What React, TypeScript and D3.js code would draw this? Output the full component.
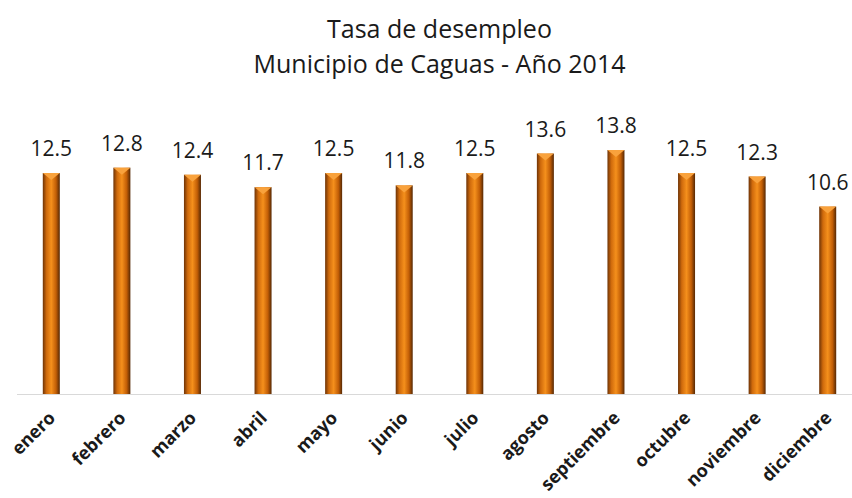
import React, { useEffect, useRef } from "react";
import * as d3 from "d3";

// chart data
const months = ["enero", "febrero", "marzo", "abril", "mayo", "junio", "julio", "agosto", "septiembre", "octubre", "noviembre", "diciembre"];
const rates = [12.5, 12.8, 12.4, 11.7, 12.5, 11.8, 12.5, 13.6, 13.8, 12.5, 12.3, 10.6];
const titleLines = ["Tasa de desempleo", "Municipio de Caguas - Año 2014"];

const W = 852, H = 498;

const drawChart = (node: SVGSVGElement) => {
  const svg = d3.select(node);
  svg.selectAll("*").remove();

  // plot area runs a bit past the right edge, like the original
  const margin = { left: 16, right: -11, baseline: 394 };
  const x = d3.scaleBand().domain(months).range([margin.left, W - margin.right]).paddingInner(0).paddingOuter(0);
  const y = d3.scaleLinear().domain([0, 16]).range([margin.baseline, margin.baseline - 16 * 17.68]);
  const cx = (d: string) => x(d)! + x.bandwidth() / 2;

  // gradient for the bars
  const defs = svg.append("defs");
  const grad = defs.append("linearGradient").attr("id", "barGrad").attr("x1", "0").attr("x2", "1").attr("y1", "0").attr("y2", "0");
  grad.append("stop").attr("offset", "0%").attr("stop-color", "#6e3306");
  grad.append("stop").attr("offset", "22%").attr("stop-color", "#cf6a0c");
  grad.append("stop").attr("offset", "50%").attr("stop-color", "#f5901c");
  grad.append("stop").attr("offset", "78%").attr("stop-color", "#c25e06");
  grad.append("stop").attr("offset", "100%").attr("stop-color", "#552804");

  // title
  const titleX = (margin.left + W - margin.right) / 2;
  svg.append("g").selectAll("text").data(titleLines).enter().append("text")
    .attr("x", titleX).attr("y", (d, i) => 38 + i * 35)
    .attr("text-anchor", "middle").attr("font-family", "Open Sans, sans-serif")
    .attr("font-size", 25).attr("fill", "#1a1a1a").text(d => d);

  // baseline
  svg.append("line").attr("x1", margin.left + 1).attr("x2", W).attr("y1", y(0) + 0.5).attr("y2", y(0) + 0.5)
    .attr("stroke", "#d9d9d9").attr("stroke-width", 1);

  const barW = 17;
  const bars = svg.append("g").selectAll("g").data(months).enter().append("g");
  bars.append("rect")
    .attr("x", d => cx(d) - barW / 2)
    .attr("y", (d, i) => y(rates[i]))
    .attr("width", barW)
    .attr("height", (d, i) => y(0) - y(rates[i]))
    .attr("fill", "url(#barGrad)");
  // beveled top
  bars.append("path")
    .attr("d", (d, i) => {
      const c = cx(d), t = y(rates[i]);
      return `M${c - barW / 2},${t} L${c + barW / 2},${t} L${c},${t + 7} Z`;
    })
    .attr("fill", "#f9a23c");

  // value labels
  svg.append("g").selectAll("text").data(months).enter().append("text")
    .attr("x", d => cx(d))
    .attr("y", (d, i) => y(rates[i]) - 17)
    .attr("text-anchor", "middle").attr("font-family", "Open Sans, sans-serif")
    .attr("font-size", 21).attr("fill", "#1a1a1a")
    .text((d, i) => rates[i].toFixed(1));

  // month labels
  svg.append("g").selectAll("text").data(months).enter().append("text")
    .attr("transform", d => `translate(${cx(d) + 5},${y(0) + 25}) rotate(-45)`)
    .attr("text-anchor", "end").attr("font-family", "Open Sans, sans-serif")
    .attr("font-weight", "bold").attr("font-size", 18).attr("fill", "#1a1a1a")
    .text(d => d);
};

export default function App() {
  const ref = useRef<SVGSVGElement>(null);
  useEffect(() => {
    if (ref.current) drawChart(ref.current);
  }, []);
  return <svg ref={ref} width={W} height={H} style={{ position: "absolute", left: 0, top: 0, background: "#fff" }} />;
}
